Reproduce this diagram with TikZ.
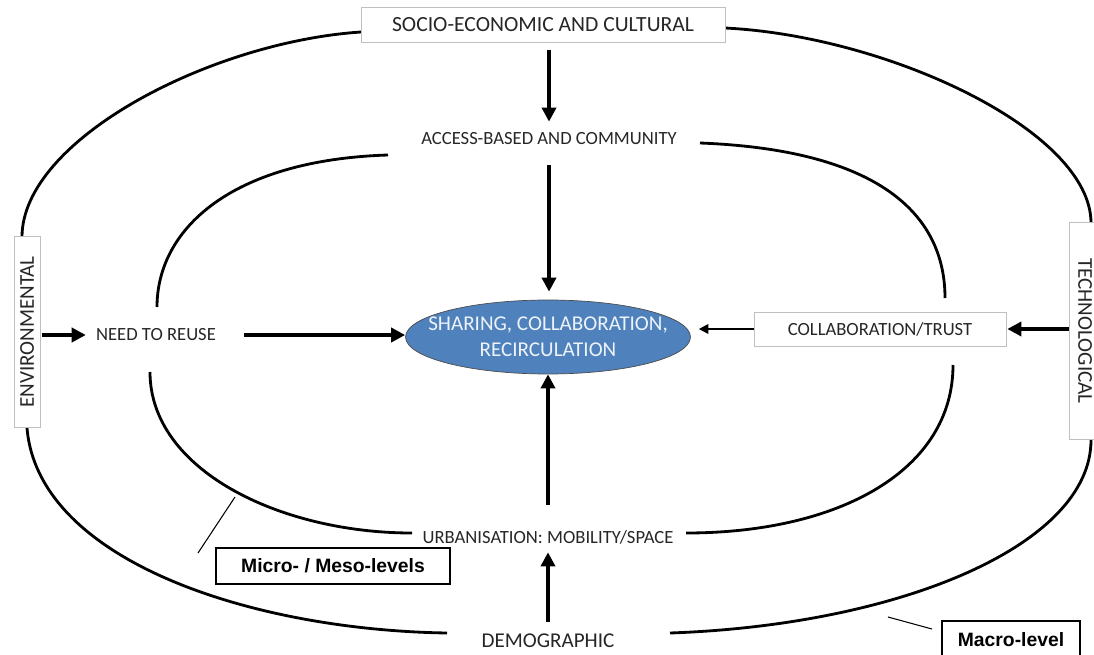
\documentclass[tikz,border=0pt]{standalone}
\usepackage{fontspec}
\setmainfont{Carlito}
\newfontfamily\arialfont{Liberation Sans}
\usetikzlibrary{arrows.meta}

\definecolor{boxgray}{HTML}{BFBFBF}
\definecolor{coreblue}{HTML}{4F81BD}
\definecolor{txtgray}{HTML}{262626}

\tikzset{
  ring/.style={line width=1.6pt},
  bigarrow/.style={line width=2.4pt,-{Triangle[length=8pt,width=8pt]}},
  smallarrow/.style={line width=1.1pt,-{Triangle[length=5.5pt,width=5.5pt]}},
  factorbox/.style={draw=boxgray,fill=white,inner sep=0pt,text=txtgray},
  txtlabel/.style={inner sep=0pt,minimum height=0.48cm,text=txtgray,font=\fontsize{10.6}{12}\selectfont},
  corefill/.style={draw=black!70,fill=coreblue},
  levelbox/.style={draw=black,line width=0.8pt,fill=white,inner sep=0pt,font=\arialfont\bfseries\fontsize{11}{13}\selectfont},
  leader/.style={line width=0.6pt}
}

\begin{document}
\begin{tikzpicture}[x=0.02cm,y=-0.02cm]
\useasboundingbox (0,0) rectangle (1094,655);

% outer ring (macro)
\draw[ring] (361,32) .. controls (210,42) and (22,140) .. (22,237);
\draw[ring] (725,28) .. controls (888,36) and (1091,131) .. (1091,223);
\draw[ring] (27,428) .. controls (38,560) and (250,630) .. (447,633);
\draw[ring] (1091,440) .. controls (1091,545) and (900,625) .. (670,633);

% inner ring (micro / meso)
\draw[ring] (388,155) .. controls (230,160) and (157,230) .. (157,307);
\draw[ring] (700,143) .. controls (880,150) and (945,215) .. (945,298);
\draw[ring] (150,372) .. controls (150,470) and (280,533) .. (412,533);
\draw[ring] (686,533) .. controls (840,533) and (953,470) .. (953,365);

% factors
\node[factorbox,minimum width=7.28cm,minimum height=0.7cm,font=\fontsize{12.3}{14}\selectfont] (socio) at (543,25) {SOCIO-ECONOMIC AND CULTURAL};
\node[factorbox,rotate=90,minimum width=3.82cm,minimum height=0.52cm,font=\fontsize{12}{14}\selectfont] (env) at (27,332) {ENVIRONMENTAL};
\node[factorbox,rotate=-90,minimum width=4.34cm,minimum height=0.64cm,font=\fontsize{12}{14}\selectfont] (tech) at (1085,331) {TECHNOLOGICAL};
\node[txtlabel,font=\fontsize{12}{14}\selectfont] (demo) at (548,641) {DEMOGRAPHIC};

\node[txtlabel] (access) at (549,139) {ACCESS-BASED AND COMMUNITY};
\node[txtlabel] (need) at (156,335) {NEED TO REUSE};
\node[factorbox,minimum width=5.04cm,minimum height=0.68cm,font=\fontsize{10.6}{12}\selectfont] (collab) at (880,329) {COLLABORATION/TRUST};
\node[txtlabel] (urban) at (548,537) {URBANISATION: MOBILITY/SPACE};

% core
\coordinate (core) at (548,337);
\draw[corefill] (core) ellipse [x radius=2.85cm,y radius=0.74cm];
\node[minimum width=5.7cm,minimum height=1.48cm,inner sep=0pt,align=center,text=white!90!coreblue,font=\fontsize{12}{14.7}\selectfont] (share) at (core) {SHARING, COLLABORATION,\\RECIRCULATION};

% arrows
\draw[bigarrow,shorten <=0.14cm,shorten >=0.1cm] (socio.south -| access) -- (access);
\draw[bigarrow,shorten <=0.28cm,shorten >=0.16cm] (access) -- (access |- share.north);
\draw[bigarrow,shorten <=0.04cm,shorten >=0.2cm] (env.south |- need) -- (need);
\draw[bigarrow,shorten <=0.56cm] (need) -- (need -| share.west);
\draw[bigarrow,shorten >=0.02cm] (tech.south |- collab) -- (collab);
\draw[smallarrow,shorten >=0.16cm] (collab) -- (collab -| share.east);
\draw[bigarrow,shorten <=0.4cm] (urban) -- (share);
\draw[bigarrow,shorten <=0.14cm,shorten >=0.06cm] (demo) -- (urban);

% levels
\node[levelbox,minimum width=4.68cm,minimum height=0.72cm] (micro) at (333,566) {Micro- / Meso-levels};
\node[levelbox,minimum width=2.76cm,minimum height=0.76cm] (macro) at (1011,640) {Macro-level};
\coordinate (microtip) at (235,497);
\coordinate (microfoot) at (198,553);
\coordinate (macrotip) at (888,617);
\coordinate (macrofoot) at (932,629);
\draw[leader] (microtip) -- (microfoot);
\draw[leader] (macrotip) -- (macrofoot);

\end{tikzpicture}
\end{document}
